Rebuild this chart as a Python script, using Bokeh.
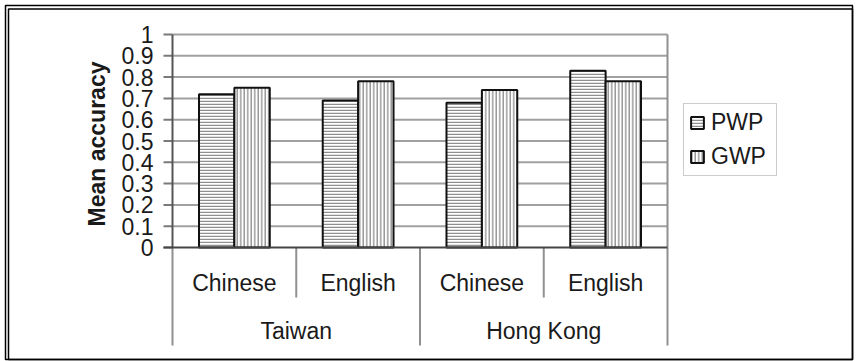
import math
from bokeh.plotting import figure
from bokeh.models import Range1d, Legend, LegendItem, ColumnDataSource
from bokeh.core.properties import value
from bokeh.embed import file_html
from bokeh.resources import INLINE

# ---- data ----
regions = ["Taiwan", "Hong Kong"]
languages = ["Chinese", "English", "Chinese", "English"]
pwp = [0.72, 0.69, 0.68, 0.83]
gwp = [0.75, 0.78, 0.74, 0.78]
y_ticks = [0, 0.1, 0.2, 0.3, 0.4, 0.5, 0.6, 0.7, 0.8, 0.9, 1.0]

# ---- layout (pixels on the canvas) ----
W, H = 857, 361
LEFT, RIGHT, TOP, ZERO, BOTTOM = 172, 667, 34, 247, 345
n = len(languages)
px_x = (RIGHT - LEFT) / n        # pixels per category
px_y = ZERO - TOP                # pixels per unit of accuracy
FONT = "Liberation Sans"
TXT = "#1a1a1a"


def dx(px):
    return (px - LEFT) / px_x


def dy(px):
    return (ZERO - px) / px_y


# the plotting frame spans the whole canvas; the value scale is set so that
# 0..1 runs from ZERO up to TOP and the categories from LEFT to RIGHT
p = figure(width=W, height=H, output_backend="svg", toolbar_location=None,
           x_range=Range1d(dx(0), dx(W)), y_range=Range1d(dy(H), dy(0)),
           x_axis_location=None, y_axis_location=None,
           min_border=0)
p.outline_line_color = None
p.background_fill_color = "white"
p.border_fill_color = "white"
p.grid.visible = False

# ---- horizontal grid ----
grid_vals = [t for t in y_ticks if t > 0]
p.segment(x0=[0] * len(grid_vals), y0=grid_vals, x1=[n] * len(grid_vals), y1=grid_vals,
          line_color="#a0a0a0", line_width=2)

# ---- value axis: ticks and labels ----
p.segment(x0=[dx(LEFT - 9)] * len(y_ticks), y0=y_ticks, x1=[0] * len(y_ticks), y1=y_ticks,
          line_color="#7a7a7a", line_width=2)
tick_text = [("%g" % t) for t in y_ticks]
p.text(x=[dx(LEFT - 19)] * len(y_ticks), y=y_ticks, text=tick_text,
       text_font=value(FONT), text_font_size="23px", text_color=TXT,
       text_align="right", text_baseline="middle")
p.text(x=[dx(96)], y=[dy(143.5)], text=["Mean accuracy"], angle=math.pi / 2,
       text_font=value(FONT), text_font_size="23px", text_font_style="bold",
       text_color=TXT, text_align="center", text_baseline="middle")

# ---- bars ----
centers = [i + 0.5 for i in range(n)]
bar_w = 0.286
src = ColumnDataSource(dict(
    xp=[c - bar_w / 2 for c in centers],
    xg=[c + bar_w / 2 for c in centers],
    pwp=pwp, gwp=gwp))
r_pwp = p.vbar(x="xp", top="pwp", bottom=0, width=bar_w, source=src,
               fill_color="white", line_color="#111111", line_width=2,
               hatch_pattern="horizontal_line", hatch_scale=3, hatch_weight=1.5,
               hatch_color="#8f8f8f")
r_gwp = p.vbar(x="xg", top="gwp", bottom=0, width=bar_w, source=src,
               fill_color="white", line_color="#111111", line_width=2,
               hatch_pattern="vertical_line", hatch_scale=3.5, hatch_weight=1.3,
               hatch_color="#8a8a8a")

# ---- axis lines and category separators ----
p.segment(x0=[0], y0=[0], x1=[0], y1=[1], line_color="#555555", line_width=2)
p.segment(x0=[n], y0=[0], x1=[n], y1=[1], line_color="#909090", line_width=2)
short = [i for i in range(1, n) if i % 2 == 1]
long_ = [i for i in range(0, n + 1) if i % 2 == 0]
p.segment(x0=short, y0=[0] * len(short), x1=short, y1=[dy(297)] * len(short),
          line_color="#909090", line_width=2)
p.segment(x0=long_, y0=[0] * len(long_), x1=long_, y1=[dy(BOTTOM)] * len(long_),
          line_color="#909090", line_width=2)
p.segment(x0=[dx(LEFT - 9)], y0=[0], x1=[n], y1=[0], line_color="#444444", line_width=2)

# ---- category labels ----
p.text(x=centers, y=[dy(282)] * n, text=languages,
       text_font=value(FONT), text_font_size="23px", text_color=TXT,
       text_align="center", text_baseline="middle")
group_x = [1.0, 3.0]
p.text(x=group_x, y=[dy(330)] * len(regions), text=regions,
       text_font=value(FONT), text_font_size="23px", text_color=TXT,
       text_align="center", text_baseline="middle")

# ---- legend ----
legend = Legend(items=[LegendItem(label="PWP", renderers=[r_pwp]),
                       LegendItem(label="GWP", renderers=[r_gwp])],
                location=(683, H - 176),
                border_line_color="#9a9a9a", border_line_width=1.5,
                background_fill_color="white", background_fill_alpha=1,
                label_text_font=FONT, label_text_font_size="23px",
                label_text_color=TXT, glyph_width=16, glyph_height=15,
                label_height=20, label_width=60, label_standoff=6,
                padding=5, spacing=7, margin=0)
p.add_layout(legend, "center")

# ---- outer frame: double rule on top and left, single on right and bottom ----
for l, t in [(5, 5), (8, 8.5)]:
    p.quad(left=[dx(l)], right=[dx(852)], top=[dy(t)], bottom=[dy(359)],
           fill_alpha=0, line_color="black", line_width=1.5)

open("out.html", "w").write(file_html(p, INLINE))
